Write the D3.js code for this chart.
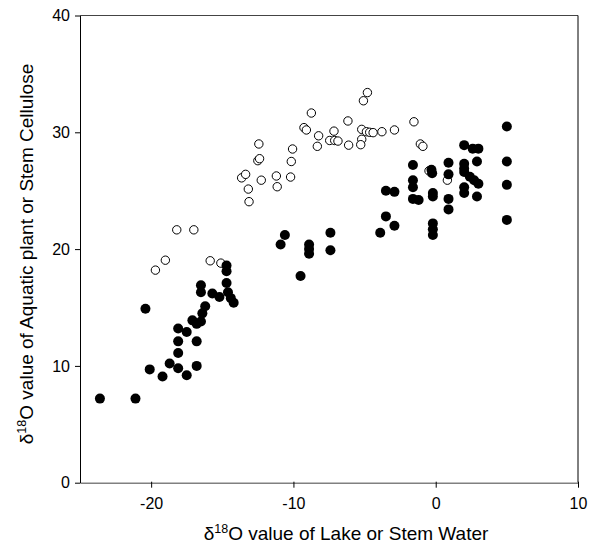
<!DOCTYPE html>
<html><head><meta charset="utf-8">
<script src="https://cdn.jsdelivr.net/npm/d3@7"></script>
<style>body{margin:0;background:#fff}svg{display:block}text{font-family:Arial,"Liberation Sans",sans-serif}</style>
</head><body><svg id="c" width="595" height="545"></svg>
<script>
const xTicks=[-20,-10,0,10];
const yTicks=[0,10,20,30,40];
const filledX=[-23.6,-21.1,-20.4,-20.1,-19.2,-18.7,-18.1,-17.5,-16.8,-18.1,-18.1,-18.1,-17.5,-16.8,-17.1,-16.8,-16.5,-16.4,-16.2,-16.5,-16.5,-15.7,-15.2,-14.7,-14.7,-14.7,-14.6,-14.4,-14.2,
 -10.6,-10.9,-8.9,-8.9,-8.9,-7.4,-7.4,-9.5,-3.5,-2.9,-3.5,-2.9,-3.9,
 -1.6,-1.6,-1.6,-1.6,-1.2,-0.3,-0.25,-0.2,-0.2,-0.2,-0.2,-0.2,0.9,0.9,0.9,0.9,2.0,2.6,3.0,2.9,2.0,2.0,2.0,2.4,2.7,3.0,2.0,2.0,2.9,5.0,5.0,5.0,5.0];
const filledY=[7.2,7.2,14.9,9.7,9.1,10.2,9.8,9.2,10.0,11.1,12.1,13.2,12.9,12.1,13.9,13.6,13.8,14.5,15.1,16.9,16.3,16.2,15.9,18.6,18.1,17.1,16.3,15.8,15.4,
 21.2,20.4,20.4,20.0,19.6,21.4,19.9,17.7,25.0,24.9,22.8,22.0,21.4,
 27.2,25.9,25.3,24.3,24.2,26.8,26.5,24.8,24.5,22.2,21.7,21.2,27.4,26.4,24.3,23.4,28.9,28.6,28.6,27.5,27.3,26.9,26.6,26.2,25.9,25.6,25.3,24.8,24.5,30.5,27.5,25.5,22.5];
const openX=[-19.7,-19.0,-18.2,-17.0,-15.85,-15.1,
 -13.12,-13.17,-13.64,-13.36,-12.26,-11.14,-11.2,-10.2,-10.15,-12.5,-12.38,-10.06,-12.43,
 -9.26,-9.09,-8.74,-8.23,-8.32,-7.15,-7.45,-7.1,-6.87,-6.17,-6.12,-5.2,-4.87,-4.64,-4.4,-3.78,-2.9,-5.2,-5.27,-5.08,-4.8,
 -1.53,-1.08,-0.9,-0.47,0.82];
const openY=[18.2,19.05,21.65,21.65,19.0,18.8,
 24.06,25.14,26.1,26.4,25.9,25.34,26.26,26.17,27.5,27.57,27.74,28.57,29.0,
 30.4,30.2,31.65,29.7,28.8,30.1,29.3,29.3,29.25,30.97,28.9,30.25,30.05,30.0,29.97,30.05,30.2,29.4,28.94,32.7,33.4,
 30.9,29.0,28.8,26.7,25.9];

const svg=d3.select("#c");
const x=d3.scaleLinear().domain([-25,10]).range([80,578]);
const y=d3.scaleLinear().domain([0,40]).range([482.7,15.5]);

svg.append("line").attr("x1",80).attr("x2",578).attr("y1",y(40)).attr("y2",y(40)).attr("stroke","#444").attr("stroke-width",1);
svg.append("line").attr("x1",578).attr("x2",578).attr("y1",y(40)).attr("y2",y(0)).attr("stroke","#000").attr("stroke-width",1);

const fmt=d=>String(d);
const xa=svg.append("g").attr("transform",`translate(0,${y(0)})`)
 .call(d3.axisBottom(x).tickValues(xTicks).tickFormat(fmt).tickSize(5).tickSizeOuter(0).tickPadding(10));
xa.select(".domain").attr("stroke","#808080").attr("stroke-width",1.5);
xa.selectAll(".tick line").attr("stroke","#000").attr("y1",-1);
xa.selectAll("text").attr("font-size",16).attr("fill","#000");

const ya=svg.append("g").attr("transform",`translate(80,0)`)
 .call(d3.axisLeft(y).tickValues(yTicks).tickFormat(fmt).tickSize(5).tickSizeOuter(0).tickPadding(5));
ya.select(".domain").attr("stroke","#000").attr("stroke-width",1);
ya.selectAll("text").attr("font-size",16).attr("fill","#000");

svg.append("g").selectAll("circle").data(openX).join("circle")
 .attr("cx",(d)=>x(d)).attr("cy",(d,i)=>y(openY[i])).attr("r",4.2)
 .attr("fill","#fff").attr("stroke","#000").attr("stroke-width",1);
svg.append("g").selectAll("circle").data(filledX).join("circle")
 .attr("cx",(d)=>x(d)).attr("cy",(d,i)=>y(filledY[i])).attr("r",5)
 .attr("fill","#000");

const xl=svg.append("text").attr("x",346).attr("y",540).attr("text-anchor","middle").attr("font-size",19);
xl.append("tspan").text("δ");
xl.append("tspan").attr("font-size",12.5).attr("dy",-7).text("18");
xl.append("tspan").attr("dy",7).text("O value of Lake or Stem Water");

const yl=svg.append("text").attr("transform","translate(33,254) rotate(-90)").attr("text-anchor","middle").attr("font-size",19);
yl.append("tspan").text("δ");
yl.append("tspan").attr("font-size",12.5).attr("dy",-7).text("18");
yl.append("tspan").attr("dy",7).text("O value of Aquatic plant or Stem Cellulose");
</script></body></html>
